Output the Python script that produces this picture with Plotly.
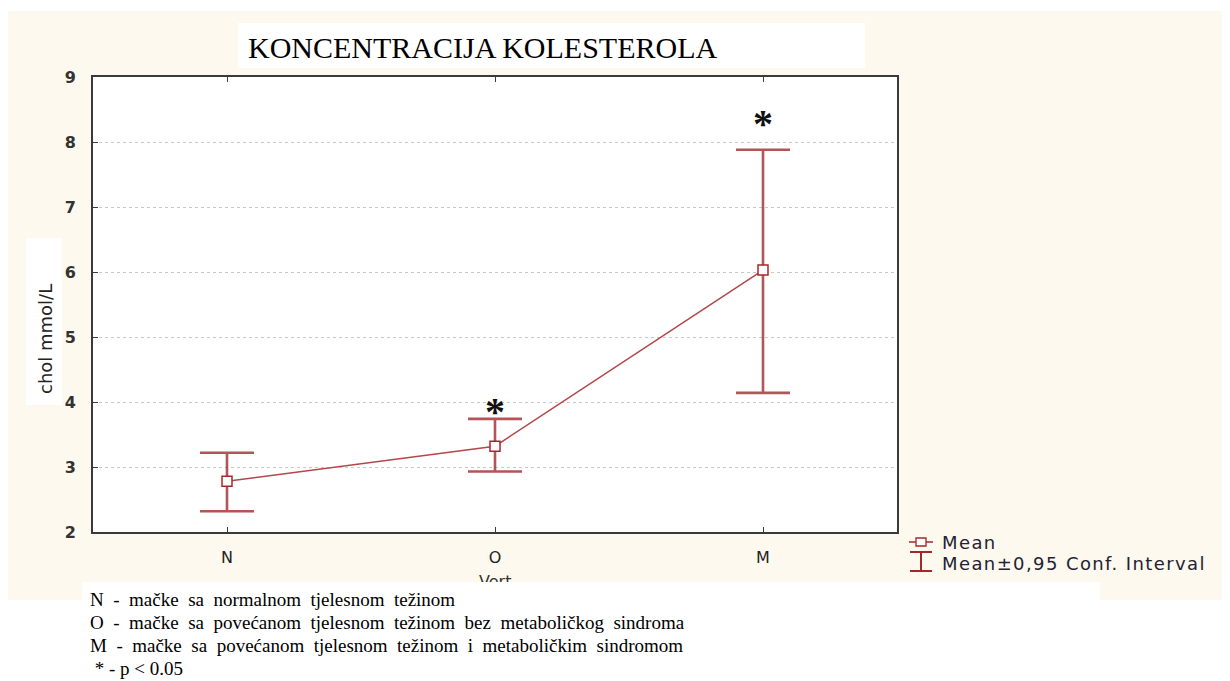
import plotly.graph_objects as go

# ---- data ----
categories = ["N", "O", "M"]
means = [2.78, 3.32, 6.03]
ci_upper = [3.22, 3.74, 7.88]
ci_lower = [2.32, 2.93, 4.14]
sig_categories = ["O", "M"]
sig_y = [3.95, 8.37]
y_ticks = [2, 3, 4, 5, 6, 7, 8, 9]
title_text = "KONCENTRACIJA KOLESTEROLA"
y_title = "chol mmol/L"
x_title = "Vert"
legend_labels = ["Mean", "Mean±0,95 Conf. Interval"]
notes = [
    "N - mačke sa normalnom tjelesnom težinom",
    "O - mačke sa povećanom tjelesnom težinom bez metaboličkog sindroma",
    "M - mačke sa povećanom tjelesnom težinom i metaboličkim sindromom",
    " * - p < 0.05",
]

# page body has an 8px margin; the figure is sized/offset to compensate
OFF = 8
SW, SH = 1230, 681
W, H = SW - OFF, SH - OFF
L, R, T, B = 93, 897, 77, 532   # plot area in screen pixels
pw, ph = R - L, B - T


def px(x):
    return (x - L) / pw


def py(y):
    return (B - y) / ph


RED = "#A3282B"
err_plus = [u - m for u, m in zip(ci_upper, means)]
err_minus = [m - l for m, l in zip(means, ci_lower)]

fig = go.Figure()
fig.add_trace(go.Scatter(
    x=categories, y=means, mode="lines+markers",
    line=dict(color="#B4474A", width=1.5),
    marker=dict(symbol="square", size=10, color="white",
                line=dict(color=RED, width=1.5)),
    error_y=dict(type="data", symmetric=False, array=err_plus,
                 arrayminus=err_minus, color="rgba(160,36,40,0.78)",
                 thickness=2.6, width=27),
    showlegend=False,
))

shapes = [
    dict(type="rect", xref="paper", yref="paper", layer="below",
         x0=px(8), x1=px(1235), y0=py(600), y1=py(11),
         fillcolor="#FEF9EE", line=dict(width=0)),
    dict(type="rect", xref="paper", yref="paper", layer="below",
         x0=0, x1=1, y0=0, y1=1,
         fillcolor="white", line=dict(width=0)),
    dict(type="rect", xref="paper", yref="paper", layer="below",
         x0=px(238), x1=px(865), y0=py(68), y1=py(23),
         fillcolor="white", line=dict(width=0)),
    dict(type="rect", xref="paper", yref="paper", layer="below",
         x0=px(26), x1=px(62), y0=py(405), y1=py(238),
         fillcolor="white", line=dict(width=0)),
    # legend symbols
    dict(type="line", xref="paper", yref="paper", x0=px(909), x1=px(933),
         y0=py(542), y1=py(542), line=dict(color=RED, width=1.5)),
    dict(type="rect", xref="paper", yref="paper", x0=px(916), x1=px(926),
         y0=py(546), y1=py(538), fillcolor="white", line=dict(color=RED, width=1.3)),
    dict(type="line", xref="paper", yref="paper", x0=px(921), x1=px(921),
         y0=py(552), y1=py(571), line=dict(color=RED, width=2)),
    dict(type="line", xref="paper", yref="paper", x0=px(910), x1=px(932),
         y0=py(552), y1=py(552), line=dict(color=RED, width=2)),
    dict(type="line", xref="paper", yref="paper", x0=px(910), x1=px(932),
         y0=py(571), y1=py(571), line=dict(color=RED, width=2)),
]

ann = []
# x-axis title (partly hidden by the notes box)
ann.append(dict(xref="paper", yref="paper", x=px(495), y=py(581), text=x_title,
                showarrow=False, xanchor="center", yanchor="middle",
                font=dict(family="DejaVu Sans", size=16, color="#333333")))
# notes box
ann.append(dict(xref="paper", yref="paper", x=px(82), y=py(582), text=" ",
                showarrow=False, xanchor="left", yanchor="top",
                width=1018, height=98, bgcolor="white", borderpad=0,
                borderwidth=0))
for i, line in enumerate(notes):
    ann.append(dict(xref="paper", yref="paper", x=px(89), y=py(599 + i * 23.3),
                    text=line.replace(" ", "  ") if i < 3 else line,
                    showarrow=False, xanchor="left", yanchor="middle",
                    borderpad=0,
                    font=dict(family="Liberation Serif", size=19, color="black")))
# title
ann.append(dict(xref="paper", yref="paper", x=px(246), y=py(47), text=title_text,
                showarrow=False, xanchor="left", yanchor="middle",
                font=dict(family="Liberation Serif", size=30, color="black")))
# y title
ann.append(dict(xref="paper", yref="paper", x=px(45), y=py(339), text=y_title,
                showarrow=False, textangle=-90, xanchor="center", yanchor="middle",
                font=dict(family="DejaVu Sans", size=18, color="#222222")))
# asterisks
for c, yv in zip(sig_categories, sig_y):
    ann.append(dict(xref="x", yref="y", x=c, y=yv, text="<b>*</b>", showarrow=False,
                    xanchor="center", yanchor="middle", yshift=-6,
                    font=dict(family="Liberation Serif", size=40, color="#111111")))
# legend texts
for i, lab in enumerate(legend_labels):
    ann.append(dict(xref="paper", yref="paper", x=px(940), y=py(542 + i * 21),
                    text='<span style="letter-spacing:1.4px">' + lab + "</span>",
                    showarrow=False, xanchor="left", yanchor="middle",
                    font=dict(family="DejaVu Sans", size=18, color="#222233")))

fig.update_layout(
    width=W, height=H,
    margin=dict(l=L - OFF, r=SW - R, t=T - OFF, b=SH - B, pad=0),
    paper_bgcolor="white", plot_bgcolor="white",
    shapes=shapes, annotations=ann, showlegend=False,
    xaxis=dict(type="category", categoryorder="array", categoryarray=categories,
               range=[-0.5, 2.5], showgrid=False, zeroline=False,
               showline=True, linecolor="#3A3A3A", linewidth=2, mirror="ticks",
               ticks="inside", ticklen=5, tickcolor="#3A3A3A", tickwidth=1,
               ticklabelstandoff=10,
               tickfont=dict(family="DejaVu Sans", size=16, color="#222222")),
    yaxis=dict(range=[2, 9], tickvals=y_ticks, showgrid=True,
               gridcolor="#C8C8C8", griddash="dot", gridwidth=1, zeroline=False,
               showline=True, linecolor="#3A3A3A", linewidth=2, mirror=True,
               ticks="inside", ticklen=5, tickcolor="#3A3A3A", tickwidth=1,
               ticklabelstandoff=12,
               tickfont=dict(family="DejaVu Sans", size=16, color="#333333",
                             weight="bold")),
)

fig.write_html("out.html")
